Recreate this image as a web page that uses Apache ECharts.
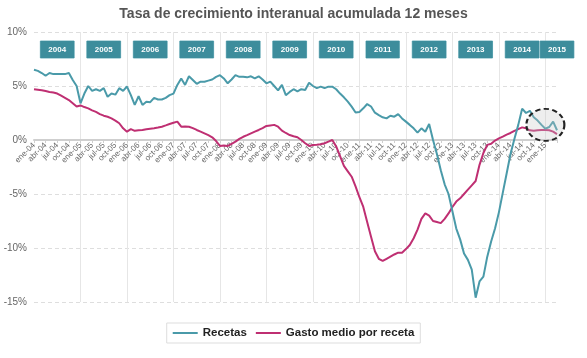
<!DOCTYPE html>
<html>
<head>
<meta charset="utf-8">
<script src="https://cdn.jsdelivr.net/npm/echarts@6/dist/echarts.min.js"></script>
<style>
html,body{margin:0;padding:0;background:#fff;}
#chart{width:587px;height:358px;}
</style>
</head>
<body>
<div id="chart"></div>
<script>
const titleText = 'Tasa de crecimiento interanual acumulada 12 meses';
const monthNames = ['ene','feb','mar','abr','may','jun','jul','ago','sep','oct','nov','dic'];
const firstYear = 4;   // 2004
const monthCount = 136; // ene-04 .. abr-15
const seriesNames = ['Recetas', 'Gasto medio por receta'];

const recetas = [
  6.5, 6.4, 6.2, 5.95, 6.2, 6.1, 6.1, 6.1, 6.1, 6.2, 5.55, 5.0,
  3.4, 4.3, 5.0, 4.55, 4.7, 4.55, 4.8, 4.0, 4.3, 4.2, 4.8, 4.55,
  4.95, 4.15, 3.25, 4.05, 3.25, 3.55, 3.5, 3.9, 3.75, 3.75, 3.9, 4.15,
  4.3, 5.1, 5.7, 5.1, 5.9, 5.55, 5.2, 5.4, 5.4, 5.5, 5.6, 5.85,
  6.0, 5.7, 5.25, 5.6, 6.0, 5.85, 5.85, 5.8, 5.9, 5.7, 5.9, 5.6,
  5.25, 5.4, 5.0, 4.6, 5.1, 4.15, 4.45, 4.7, 4.5, 4.7, 4.63, 5.3,
  5.0, 4.8, 4.94, 4.8, 4.94, 4.94, 4.7, 4.3, 3.95, 3.55, 3.09, 2.55,
  2.6, 2.93, 3.33, 3.1, 2.53, 2.3, 2.1, 2.0, 2.25, 2.16, 2.4, 2.0,
  1.7, 1.4, 1.08, 0.68, 1.08, 0.77, 1.48, 0.0, -1.3, -2.8, -4.1, -5.0,
  -6.6, -8.2, -9.2, -10.5, -11.1, -12.0, -14.6, -13.1, -12.65, -10.8, -9.4, -8.2,
  -6.7, -4.9, -3.1, -1.3, 0.1, 1.4, 2.9, 2.5, 2.7, 2.1, 1.8, 1.4,
  1.05, 1.2, 1.7, 0.9
];
const gasto = [
  4.7, 4.65, 4.6, 4.53, 4.45, 4.4, 4.3, 4.1, 3.9, 3.7, 3.4, 3.1,
  3.2, 3.05, 2.93, 2.75, 2.6, 2.4, 2.25, 2.15, 2.0, 1.8, 1.55, 1.08,
  0.77, 1.0, 0.85, 0.9, 0.93, 1.0, 1.05, 1.08, 1.15, 1.23, 1.35, 1.48,
  1.6, 1.7, 1.23, 1.25, 1.23, 1.1, 0.93, 0.78, 0.62, 0.45, 0.25, -0.1,
  -0.55, -0.5, -0.55, -0.35, -0.15, 0.1, 0.3, 0.45, 0.62, 0.78, 0.93, 1.1,
  1.3, 1.35, 1.4, 1.23, 0.87, 0.65, 0.46, 0.35, 0.25, 0.0, -0.3, -0.55,
  -0.47, -0.45, -0.4, -0.3, -0.15, 0.0, -0.6, -1.5, -2.4, -2.9, -3.4, -4.3,
  -5.3, -6.2, -7.6, -8.95, -10.3, -11.0, -11.2, -11.0, -10.8, -10.6, -10.43, -10.43,
  -10.1, -9.72, -9.1, -8.3, -7.3, -6.8, -7.0, -7.5, -7.6, -7.7, -7.3, -6.8,
  -6.2, -5.7, -5.4, -5.0, -4.6, -4.2, -3.8, -2.3, -1.2, -0.45, -0.35, -0.05,
  0.15, 0.31, 0.5, 0.65, 0.85, 1.0, 1.17, 1.08, 0.9, 0.85, 0.9, 0.93,
  0.93, 0.9, 0.77, 0.55
];
const yTicks = {min: -15, max: 10, interval: 5};
const highlight = {category: 'ene-15', value: 1.4};

const months = [];
for (let i = 0; i < monthCount; i++) {
  const y = firstYear + Math.floor(i / 12);
  months.push(monthNames[i % 12] + '-' + String(y).padStart(2, '0'));
}

const W = 587, H = 358;
const gridBox = {left: 34, right: 30, top: 32, bottom: 56};
const plotH = H - gridBox.top - gridBox.bottom;
// second grid whose bottom edge lies on the main grid's zero line (for the month axis)
const zeroOffset = plotH * yTicks.max / (yTicks.max - yTicks.min);
const labelGrid = {left: gridBox.left, right: gridBox.right, top: gridBox.top, bottom: H - gridBox.top - zeroOffset};

const teal = '#4a9aa9';
const magenta = '#bf2f72';
const boxColor = '#3d8d9c';
const font = 'Liberation Sans, Arial, sans-serif';

const chart = echarts.init(document.getElementById('chart'), null, {renderer: 'canvas'});
chart.setOption({
  animation: false,
  backgroundColor: '#fff',
  title: {
    text: titleText, left: 'center', top: 2,
    textStyle: {fontFamily: font, fontSize: 14, fontWeight: 'bold', color: '#555'}
  },
  grid: [gridBox, labelGrid],
  legend: {
    data: seriesNames, bottom: 15, left: 'center',
    icon: 'rect', itemWidth: 25, itemHeight: 2, itemGap: 9,
    borderColor: '#ddd', borderWidth: 1, padding: [4, 6],
    textStyle: {fontFamily: font, fontSize: 11.5, fontWeight: 'bold', color: '#222'}
  },
  xAxis: [{
    gridIndex: 0, type: 'category', data: months, boundaryGap: false, position: 'bottom',
    axisLine: {show: false}, axisTick: {show: false}, axisLabel: {show: false},
    splitLine: {show: false}
  }, {
    gridIndex: 0, type: 'category', data: months, boundaryGap: false, position: 'top',
    axisLine: {show: false, onZero: false}, axisTick: {show: false},
    axisLabel: {
      inside: true, margin: 9,
      interval: (i) => i % 12 === 6 || i === monthCount - 1,
      formatter: (v) => '20' + v.slice(4),
      backgroundColor: boxColor, color: '#fff', fontFamily: font,
      fontSize: 8, fontWeight: 'bold', padding: [5, 8, 4, 8],
      borderColor: '#6fb0bc', borderWidth: 0.5
    },
    splitLine: {show: true, interval: (i) => i % 12 === 0 && i > 0, lineStyle: {color: '#e6e6e6', width: 1}}
  }, {
    gridIndex: 1, type: 'category', data: months, boundaryGap: false, position: 'bottom',
    axisLine: {show: true, onZero: false, lineStyle: {color: '#cfcfcf', width: 2}},
    axisTick: {show: true, length: 3, interval: (i) => i % 3 === 0, lineStyle: {color: '#cfcfcf'}},
    axisLabel: {
      interval: (i) => i % 3 === 0 && i <= 132, rotate: 45, margin: 4,
      fontFamily: font, fontSize: 8, color: '#666'
    },
    splitLine: {show: false}
  }],
  yAxis: [{
    gridIndex: 0, type: 'value', min: yTicks.min, max: yTicks.max, interval: yTicks.interval,
    axisLine: {show: false, onZero: false}, axisTick: {show: false},
    axisLabel: {formatter: '{value}%', fontFamily: font, fontSize: 10, color: '#666', margin: 7},
    splitLine: {lineStyle: {color: '#dedede', type: [4, 3], width: 1}}
  }, {
    gridIndex: 1, type: 'value', min: 0, max: yTicks.max, show: false,
    splitLine: {show: false}
  }],
  series: [{
    name: seriesNames[0], type: 'line', data: recetas, xAxisIndex: 0, yAxisIndex: 0,
    showSymbol: false, symbol: 'none', z: 3,
    lineStyle: {color: teal, width: 2}, itemStyle: {color: teal},
    markPoint: {
      symbol: 'circle', symbolSize: [38, 32], silent: true,
      label: {show: false},
      itemStyle: {color: 'rgba(200,200,200,0.3)', borderColor: '#222', borderWidth: 2, borderType: [5, 3]},
      data: [{coord: [highlight.category, highlight.value]}]
    }
  }, {
    name: seriesNames[1], type: 'line', data: gasto, xAxisIndex: 0, yAxisIndex: 0,
    showSymbol: false, symbol: 'none', z: 2,
    lineStyle: {color: magenta, width: 2}, itemStyle: {color: magenta}
  }]
});
</script>
</body>
</html>
